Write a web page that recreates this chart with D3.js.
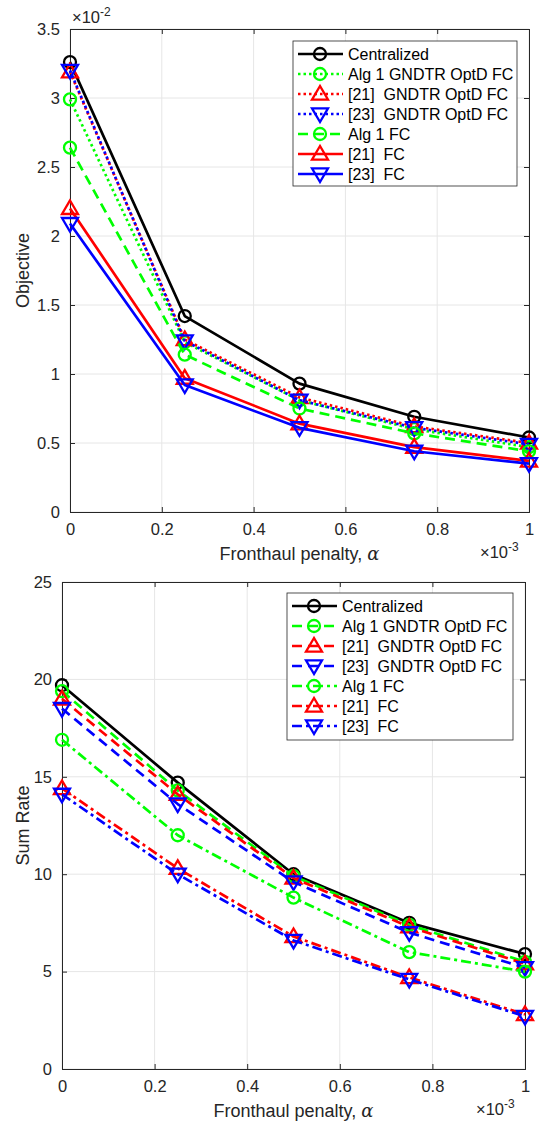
<!DOCTYPE html>
<html>
<head>
<meta charset="utf-8">
<script src="https://cdn.jsdelivr.net/npm/d3@7"></script>
<style>
  body { margin: 0; background: #fff; }
  svg { font-family: "Liberation Sans", Arial, sans-serif; }
</style>
</head>
<body>
<svg id="fig" width="543" height="1129"></svg>
<script>
// x values (fronthaul penalty, x 10^-3)
const alphaVals = [0, 0.25, 0.5, 0.75, 1];
const xTicks = [0, 0.2, 0.4, 0.6, 0.8, 1];

const seriesNames = ['Centralized', 'Alg 1 GNDTR OptD FC', '[21]  GNDTR OptD FC', '[23]  GNDTR OptD FC',
                     'Alg 1 FC', '[21]  FC', '[23]  FC'];
const seriesColors = ['#000000', '#00ff00', '#ff0000', '#0000ff', '#00ff00', '#ff0000', '#0000ff'];
const seriesMarkers = ['circle', 'circle', 'up', 'down', 'circle', 'up', 'down'];

// top panel: objective (x 10^-2)
const objTicks = [0, 0.5, 1, 1.5, 2, 2.5, 3, 3.5];
const objCentral = [3.26, 1.42, 0.93, 0.69, 0.54];
const objAlg1Gndtr = [2.99, 1.23, 0.81, 0.60, 0.47];
const obj21Gndtr = [3.19, 1.25, 0.83, 0.62, 0.50];
const obj23Gndtr = [3.20, 1.24, 0.81, 0.61, 0.49];
const objAlg1Fc = [2.64, 1.14, 0.75, 0.57, 0.44];
const obj21Fc = [2.20, 0.97, 0.64, 0.47, 0.37];
const obj23Fc = [2.09, 0.92, 0.61, 0.44, 0.35];

// bottom panel: sum rate
const rateTicks = [0, 5, 10, 15, 20, 25];
const rateCentral = [19.7, 14.7, 10.0, 7.5, 5.9];
const rateAlg1Gndtr = [19.4, 14.3, 9.9, 7.4, 5.5];
const rate21Gndtr = [19.0, 14.1, 9.8, 7.3, 5.4];
const rate23Gndtr = [18.5, 13.6, 9.6, 7.0, 5.2];
const rateAlg1Fc = [16.9, 12.0, 8.8, 6.0, 5.0];
const rate21Fc = [14.4, 10.3, 6.8, 4.7, 2.8];
const rate23Fc = [14.1, 10.0, 6.6, 4.6, 2.7];

const DOT = '2.5,3', DASH = '10,6', DASHDOT = '10,4,3,4';

const svg = d3.select('#fig');

function drawPanel(p) {
  const x = d3.scaleLinear().domain([0, 1]).range([p.left, p.right]);
  const y = d3.scaleLinear().domain([0, p.yMax]).range([p.bottom, p.top]);
  const g = svg.append('g');

  // grid
  g.selectAll('.gx').data(xTicks).join('line')
    .attr('x1', d => x(d)).attr('x2', d => x(d))
    .attr('y1', p.top).attr('y2', p.bottom)
    .attr('stroke', '#e6e6e6').attr('stroke-width', 1);
  g.selectAll('.gy').data(p.yTicks).join('line')
    .attr('x1', p.left).attr('x2', p.right)
    .attr('y1', d => y(d)).attr('y2', d => y(d))
    .attr('stroke', '#e6e6e6').attr('stroke-width', 1);

  // axes (MATLAB style box, ticks inward)
  const axX = d3.axisBottom(x).tickValues(xTicks).tickSize(-5).tickPadding(11).tickFormat(d3.format('~g'));
  const axXt = d3.axisTop(x).tickValues(xTicks).tickSize(-5).tickFormat('');
  const axY = d3.axisLeft(y).tickValues(p.yTicks).tickSize(-5).tickPadding(10).tickFormat(d3.format('~g'));
  const axYr = d3.axisRight(y).tickValues(p.yTicks).tickSize(-5).tickFormat('');
  [[axX, `translate(0,${p.bottom})`], [axXt, `translate(0,${p.top})`],
   [axY, `translate(${p.left},0)`], [axYr, `translate(${p.right},0)`]].forEach(([ax, tr]) => {
    const a = g.append('g').attr('transform', tr).call(ax);
    a.select('.domain').attr('stroke', '#262626').attr('stroke-width', 1);
    a.selectAll('.tick line').attr('stroke', '#262626');
    a.selectAll('text').attr('fill', '#262626').style('font-size', '16.5px');
  });

  // series lines
  const line = d3.line().x((d, i) => x(alphaVals[i])).y(d => y(d));
  p.series.forEach((vals, k) => {
    g.append('path').datum(vals)
      .attr('d', line)
      .attr('fill', 'none')
      .attr('stroke', seriesColors[k])
      .attr('stroke-width', 2.7)
      .attr('stroke-dasharray', p.dashes[k])
      .attr('stroke-linejoin', 'round');
    vals.forEach((v, i) => drawMarker(g, seriesMarkers[k], x(alphaVals[i]), y(v), seriesColors[k]));
  });

  // labels
  g.append('text')
    .attr('transform', `translate(${p.yLabelX},${(p.top + p.bottom) / 2}) rotate(-90)`)
    .attr('text-anchor', 'middle').attr('fill', '#262626')
    .style('font-size', '18px').text(p.yLabel);
  const xl = g.append('text')
    .attr('x', (p.left + p.right) / 2).attr('y', p.bottom + 48)
    .attr('text-anchor', 'middle').attr('fill', '#262626')
    .style('font-size', '18px');
  xl.append('tspan').text('Fronthaul penalty, ');
  xl.append('tspan').style('font-style', 'italic').style('font-family', 'DejaVu Serif, serif').text('α');

  const ex = g.append('text').attr('x', p.right - 49).attr('y', p.bottom + 46)
    .attr('fill', '#262626').style('font-size', '16.5px');
  ex.append('tspan').text('×10');
  ex.append('tspan').attr('dy', -7).style('font-size', '12px').text('-3');
  if (p.yExp) {
    const ey = g.append('text').attr('x', p.left + 2).attr('y', p.top - 6)
      .attr('fill', '#262626').style('font-size', '16.5px');
    ey.append('tspan').text('×10');
    ey.append('tspan').attr('dy', -7).style('font-size', '12px').text(p.yExp);
  }

  // legend
  const L = p.legend;
  g.append('rect').attr('x', L.x).attr('y', L.y).attr('width', L.w).attr('height', L.h)
    .attr('fill', '#fff').attr('stroke', '#262626').attr('stroke-width', 0.8);
  seriesNames.forEach((name, k) => {
    const cy = L.y + 13 + k * 20;
    g.append('line').attr('x1', L.x + 5).attr('x2', L.x + 50).attr('y1', cy).attr('y2', cy)
      .attr('stroke', seriesColors[k]).attr('stroke-width', 2.7)
      .attr('stroke-dasharray', p.dashes[k]);
    drawMarker(g, seriesMarkers[k], L.x + 27, cy, seriesColors[k]);
    g.append('text').attr('x', L.x + 55).attr('y', cy + 6)
      .attr('fill', '#000').style('font-size', '16px')
      .style('white-space', 'pre').text(name);
  });
}

function drawMarker(g, type, cx, cy, color) {
  if (type === 'circle') {
    g.append('circle').attr('cx', cx).attr('cy', cy).attr('r', 6)
      .attr('fill', 'none').attr('stroke', color).attr('stroke-width', 2.3);
  } else {
    const s = 8;
    const pts = type === 'up'
      ? [[cx, cy - s], [cx - s, cy + s * 0.7], [cx + s, cy + s * 0.7]]
      : [[cx, cy + s], [cx - s, cy - s * 0.7], [cx + s, cy - s * 0.7]];
    g.append('polygon').attr('points', pts.map(q => q.join(',')).join(' '))
      .attr('fill', 'none').attr('stroke', color).attr('stroke-width', 2.3);
  }
}

drawPanel({
  left: 70, right: 529, top: 29, bottom: 512, yMax: 3.5, yTicks: objTicks,
  yLabel: 'Objective', yExp: '-2', yLabelX: 29,
  series: [objCentral, objAlg1Gndtr, obj21Gndtr, obj23Gndtr, objAlg1Fc, obj21Fc, obj23Fc],
  dashes: [null, DOT, DOT, DOT, DASH, null, null],
  legend: { x: 293, y: 41, w: 224, h: 145 }
});

drawPanel({
  left: 62, right: 525, top: 582, bottom: 1069, yMax: 25, yTicks: rateTicks,
  yLabel: 'Sum Rate', yExp: '', yLabelX: 29,
  series: [rateCentral, rateAlg1Gndtr, rate21Gndtr, rate23Gndtr, rateAlg1Fc, rate21Fc, rate23Fc],
  dashes: [null, DASH, DASH, DASH, DASHDOT, DASHDOT, DASHDOT],
  legend: { x: 287, y: 593, w: 226, h: 147 }
});
</script>
</body>
</html>
